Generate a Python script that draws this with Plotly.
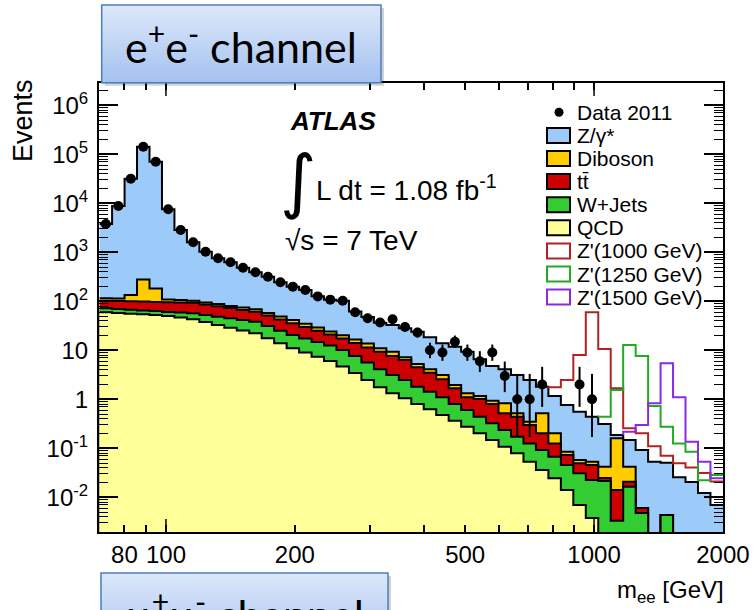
import numpy as np
import plotly.graph_objects as go

# ---------------- binning (50 log-uniform bins) ----------------
mass_min, mass_max, n_bins = 70.0, 2000.0, 50

# ---------------- data (events per bin) ----------------
data_2011 = [3780, 8800, 31800, 143000, 70600, 7550, 2850, 1600, 1030, 755,
             625, 485, 391, 318, 244, 199, 170, 126, 108, 103,
             60, 45, 37, 43, 30, 23, 10, 9, 15, 9,
             6, 9, 3, 1, 1, 2, None, None, 2, 1,
             None, None, None, None, None, None, None, None, None, None]
data_err_lo = [61, 94, 178, 378, 266, 87, 53, 40, 32, 27,
               25, 22, 20, 18, 16, 14, 13, 11, 10, 10,
               7.7, 6.7, 6.1, 6.5, 5.5, 4.8, 3.1, 2.9, 3.8, 2.9,
               2.4, 2.9, 1.6, 0.83, 0.83, 1.3, None, None, 1.3, 0.83,
               None, None, None, None, None, None, None, None, None, None]
data_err_hi = [61, 94, 178, 378, 266, 87, 53, 40, 32, 27,
               25, 22, 20, 18, 16, 14, 13, 11, 10, 10,
               8.8, 7.7, 7.1, 7.6, 6.5, 5.8, 4.3, 4.1, 5.0, 4.1,
               3.6, 4.1, 2.9, 2.3, 2.3, 2.6, None, None, 2.6, 2.3,
               None, None, None, None, None, None, None, None, None, None]

# ---------------- backgrounds (events per bin) ----------------
bkg_qcd = [59.7, 57.7, 55.8, 54.3, 52.5, 50.1, 46.7, 42.9, 37.8, 32.8,
           28.9, 25.4, 22.2, 17.6, 13.9, 11.0, 9.0, 7.4, 6.05, 4.67,
           3.44, 2.48, 1.76, 1.33, 1.05, 0.80, 0.625, 0.479, 0.366, 0.276,
           0.202, 0.148, 0.108, 0.079, 0.053, 0.036, 0.0244, 0.0141, 0.007, 0.0038,
           0, 0, 0, 0, 0, 0, 0, 0, 0, 0]
bkg_wjets = [12.2, 11.9, 11.6, 10.9, 10.6, 10.7, 12.1, 14.0, 14.7, 15.7,
             16.1, 16.1, 16.2, 13.6, 11.3, 9.5, 8.4, 7.4, 6.45, 5.43,
             4.21, 3.16, 2.34, 1.8, 1.43, 1.01, 0.805, 0.62, 0.434, 0.329,
             0.239, 0.176, 0.128, 0.094, 0.073, 0.056, 0.043, 0.0315, 0.0239, 0.0187,
             0.0215, 0.00333, 0.0164, 0.00479, 0, 0.00435, 0, 0, 0, 0]
bkg_ttbar = [30.9, 31.8, 32.6, 33.4, 34.1, 35.1, 36.2, 36.7, 33.6, 30.6,
             27.6, 25.2, 23.0, 19.9, 17.5, 15.1, 12.5, 10.3, 8.5, 7.3,
             6.45, 5.76, 5.26, 4.52, 3.86, 2.69, 2.06, 1.46, 0.88, 0.495,
             0.57, 0.478, 0.282, 0.268, 0.173, 0.11, 0.0586, 0.0274, 0.0185, 0.0231,
             0.0033, 0.0108, 0.0044, 0.00126, 0, 0, 0, 0, 0, 0]
bkg_diboson = [12.3, 12.6, 34.5, 180, 85.2, 13.0, 11.3, 9.2, 8.9, 8.6,
               7.9, 7.6, 7.3, 6.9, 6.5, 5.9, 4.8, 4.0, 3.3, 2.8,
               2.6, 2.4, 1.64, 1.71, 0.86, 0.75, 0.61, 0.57, 0.28, 0.23,
               0.16, 0.134, 0.311, 0.077, 0.05, 0.316, 0.076, 0.0123, 0.0083, 0.0077,
               0.0173, 0.146, 0.0213, 0, 0, 0, 0, 0, 0, 0]
bkg_zgamma = [3665, 8686, 31665, 142700, 70420, 7441, 2744, 1497, 935, 667,
              544, 411, 322, 260, 195, 157.5, 135, 97, 83.7, 82.8,
              45.3, 34.2, 25.6, 23.4, 20.9, 18.75, 14.3, 10.8, 9.84, 8.03,
              5.38, 3.85, 3.27, 2.61, 2.13, 1.29, 0.968, 0.68, 0.50, 0.388,
              0.271, 0.027, 0.106, 0.086, 0.0533, 0.0465, 0.0256, 0.0205, 0.0122, 0.0070]

# ---------------- Z' signals (events per bin, stacked on total background) ----------------
sig_zp1000 = [0] * 36 + [0.59, 1.71, 7.46, 59.6, 10.3, 1.49, 0.11, 0.11, 0.057, 0.02,
                         0.024, 0.02, 0.019, 0.014]
sig_zp1250 = [0] * 40 + [0.13, 1.36, 12.65, 7.56, 0.68, 0.225, 0.1, 0.065, 0.01, 0.0215]
sig_zp1500 = [0] * 42 + [0.07, 0.207, 0.777, 5.38, 1.07, 0.116, 0.041, 0.0174]

# ---------------- axis ticks ----------------
x_tick_vals = [80, 90, 100, 200, 300, 400, 500, 600, 700, 800, 900, 1000, 2000]
x_tick_text = ['80', '', '100', '200', '', '', '500', '', '', '', '', '1000', '2000']
x_long_ticks = [100, 1000]
y_tick_vals = [1e-2, 1e-1, 1, 10, 1e2, 1e3, 1e4, 1e5, 1e6]
y_tick_text = ['10<sup>-2</sup>', '10<sup>-1</sup>', '1', '10', '10<sup>2</sup>',
               '10<sup>3</sup>', '10<sup>4</sup>', '10<sup>5</sup>', '10<sup>6</sup>']

# ---------------- styles ----------------
C_Z = '#9ccbf9'
C_DB = '#ffcc00'
C_TT = '#cc0000'
C_W = '#33cc33'
C_QCD = '#ffff99'
C_Z1000 = '#b22222'
C_Z1250 = '#22aa22'
C_Z1500 = '#8a2be2'
FONT = 'Liberation Sans'

W, H = 753, 610
ML, MR, MT, MB = 99, 30, 83, 78
PW, PH = W - ML - MR, H - MT - MB


def fx(px):
    return (px - ML) / PW


def fy(py):
    return (H - MB - py) / PH


edges = np.logspace(np.log10(mass_min), np.log10(mass_max), n_bins + 1)
centers = np.sqrt(edges[:-1] * edges[1:])

qcd = np.array(bkg_qcd, float)
c_w = qcd + np.array(bkg_wjets, float)
c_tt = c_w + np.array(bkg_ttbar, float)
c_db = c_tt + np.array(bkg_diboson, float)
c_tot = c_db + np.array(bkg_zgamma, float)


def step_y(vals):
    v = [max(float(a), 1e-9) for a in vals]
    return v + [v[-1]]


fig = go.Figure()
for vals, col in [(c_tot, C_Z), (c_db, C_DB), (c_tt, C_TT), (c_w, C_W), (qcd, C_QCD)]:
    fig.add_trace(go.Scatter(
        x=edges, y=step_y(vals), mode='lines',
        line=dict(shape='hv', color='black', width=2),
        fill='tozeroy', fillcolor=col, showlegend=False, hoverinfo='skip'))

for sig, col in [(sig_zp1000, C_Z1000), (sig_zp1250, C_Z1250), (sig_zp1500, C_Z1500)]:
    idx = next(i for i, s in enumerate(sig) if s > 0)
    vals = [c_tot[i] + sig[i] for i in range(idx, n_bins)]
    xs = [edges[idx]] + list(edges[idx:])
    ys = [c_tot[idx - 1]] + vals + [vals[-1]]
    fig.add_trace(go.Scatter(
        x=xs, y=ys, mode='lines', line=dict(shape='hv', color=col, width=2),
        showlegend=False, hoverinfo='skip'))

fig.add_trace(go.Scatter(
    x=centers, y=data_2011, mode='markers',
    marker=dict(color='black', size=10),
    error_y=dict(type='data', symmetric=False, array=data_err_hi, arrayminus=data_err_lo,
                 thickness=2, width=0, color='black'),
    showlegend=False, hoverinfo='skip'))

shapes = []
annotations = []

# long ticks at 100 and 1000 (bottom and top)
for v in x_long_ticks:
    shapes.append(dict(type='line', xref='x', yref='paper', x0=v, x1=v, y0=0, y1=13 / PH,
                       line=dict(color='black', width=1.5), layer='above'))
    shapes.append(dict(type='line', xref='x', yref='paper', x0=v, x1=v, y0=1, y1=1 - 13 / PH,
                       line=dict(color='black', width=1.5), layer='above'))

# ---------------- legend (manual, ROOT style) ----------------
leg_items = [
    ('Data 2011', None, None),
    ('Z/γ*', C_Z, 'black'),
    ('Diboson', C_DB, 'black'),
    ('tt\u0304', C_TT, 'black'),
    ('W+Jets', C_W, 'black'),
    ('QCD', C_QCD, 'black'),
    ("Z'(1000 GeV)", 'white', C_Z1000),
    ("Z'(1250 GeV)", 'white', C_Z1250),
    ("Z'(1500 GeV)", 'white', C_Z1500),
]
leg_y0, leg_dy = 112.3, 23.1
for k, (lab, fill, edge) in enumerate(leg_items):
    yc = leg_y0 + k * leg_dy
    if fill is None:
        shapes.append(dict(type='circle', xref='paper', yref='paper',
                           x0=fx(554.5), x1=fx(563.5), y0=fy(yc + 4.5), y1=fy(yc - 4.5),
                           fillcolor='black', line=dict(color='black', width=0), layer='above'))
    else:
        shapes.append(dict(type='rect', xref='paper', yref='paper',
                           x0=fx(547), x1=fx(570), y0=fy(yc + 7.5), y1=fy(yc - 7.5),
                           fillcolor=fill, line=dict(color=edge, width=2), layer='above'))
    annotations.append(dict(xref='paper', yref='paper', x=fx(575), y=fy(yc),
                            xanchor='left', yanchor='middle', showarrow=False, text=lab,
                            font=dict(family=FONT, size=21, color='black')))

# ---------------- ATLAS labels ----------------
annotations += [
    dict(xref='paper', yref='paper', x=fx(333), y=fy(121), xanchor='center', yanchor='middle',
         showarrow=False, text='<b><i>ATLAS</i></b>', font=dict(family=FONT, size=26, color='black')),
    dict(xref='paper', yref='paper', x=fx(298), y=fy(181), xanchor='center', yanchor='middle',
         showarrow=False, text='∫', font=dict(family='DejaVu Sans', size=70, color='black')),
    dict(xref='paper', yref='paper', x=fx(314), y=fy(188), xanchor='left', yanchor='middle',
         showarrow=False, text='L dt = 1.08 fb<sup>-1</sup>', font=dict(family=FONT, size=28, color='black')),
    dict(xref='paper', yref='paper', x=fx(283), y=fy(240), xanchor='left', yanchor='middle',
         showarrow=False, text='√s = 7 TeV', font=dict(family=FONT, size=28, color='black')),
    dict(xref='paper', yref='paper', x=fx(23), y=fy(121), xanchor='center', yanchor='middle',
         showarrow=False, text='Events', textangle=-90, font=dict(family=FONT, size=27, color='black')),
    dict(xref='paper', yref='paper', x=fx(726), y=fy(591), xanchor='right', yanchor='middle',
         showarrow=False, text='m<sub>ee</sub> [GeV]', font=dict(family=FONT, size=24, color='black')),
]


# ---------------- channel boxes (gradient) ----------------
def channel_box(x0, x1, y0, y1, text, ty):
    shapes.append(dict(type='rect', xref='paper', yref='paper',
                       x0=fx(x0 + 3), x1=fx(x1 + 3), y0=fy(y1 + 3), y1=fy(y0 + 3),
                       fillcolor='rgba(0,0,0,0.18)', line=dict(width=0), layer='above'))
    n = 24
    top = np.array([222, 233, 251])
    bot = np.array([164, 194, 240])
    for i in range(n):
        c = top + (bot - top) * (i + 0.5) / n
        ya = y0 + (y1 - y0) * i / n
        yb = y0 + (y1 - y0) * (i + 1) / n
        shapes.append(dict(type='rect', xref='paper', yref='paper',
                           x0=fx(x0), x1=fx(x1), y0=fy(yb + 0.5), y1=fy(ya),
                           fillcolor='rgb(%d,%d,%d)' % tuple(c), line=dict(width=0), layer='above'))
    shapes.append(dict(type='rect', xref='paper', yref='paper',
                       x0=fx(x0), x1=fx(x1), y0=fy(y1), y1=fy(y0),
                       fillcolor='rgba(0,0,0,0)', line=dict(color='#4a7ebb', width=1.5), layer='above'))
    annotations.append(dict(xref='paper', yref='paper', x=fx((x0 + x1) / 2), y=fy(ty),
                            xanchor='center', yanchor='middle', showarrow=False, text=text,
                            font=dict(family='Lato', size=43, color='black')))


channel_box(101.7, 381, 5, 82.7, 'e<sup>+</sup>e<sup>-</sup> channel', 44)
channel_box(101, 388, 573, 650, 'μ<sup>+</sup>μ<sup>-</sup> channel', 611)

fig.update_layout(
    template='none',
    width=W, height=H, margin=dict(l=ML, r=MR, t=MT, b=MB, pad=0),
    paper_bgcolor='white', plot_bgcolor='white',
    shapes=shapes, annotations=annotations, showlegend=False,
    xaxis=dict(type='log', range=[np.log10(69.76), np.log10(2001)], automargin=False,
               tickmode='array', tickvals=x_tick_vals, ticktext=x_tick_text,
               ticks='inside', ticklen=7, tickwidth=1.5, tickcolor='black',
               showline=True, linewidth=2, linecolor='black', mirror='allticks',
               showgrid=False, zeroline=False,
               tickfont=dict(family=FONT, size=24, color='black')),
    yaxis=dict(type='log', range=[-2.708, 6.455], automargin=False,
               tickmode='array', tickvals=y_tick_vals, ticktext=y_tick_text,
               ticks='inside', ticklen=19, tickwidth=1.5, tickcolor='black',
               minor=dict(tickmode='array',
                          tickvals=[k * 10.0 ** e for e in range(-3, 7) for k in range(2, 10)],
                          ticks='inside', ticklen=9, tickwidth=1, tickcolor='black'),
               showline=True, linewidth=2, linecolor='black', mirror='allticks',
               showgrid=False, zeroline=False, ticklabelstandoff=4,
               tickfont=dict(family=FONT, size=24, color='black')),
)

fig.write_html('out.html')
